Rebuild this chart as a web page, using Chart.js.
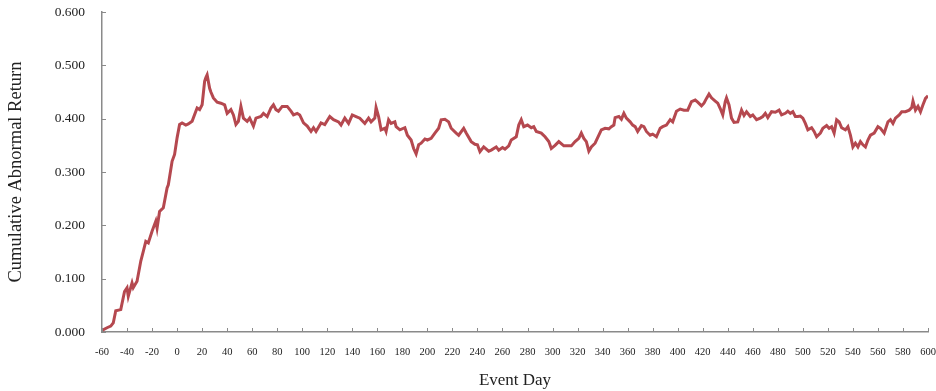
<!DOCTYPE html>
<html>
<head>
<meta charset="utf-8">
<script src="https://cdn.jsdelivr.net/npm/chart.js@4.4.1/dist/chart.umd.min.js"></script>
<style>
  html, body { margin: 0; padding: 0; background: #ffffff; }
  #wrap { width: 936px; height: 391px; position: relative; }
</style>
</head>
<body>
<div id="wrap"><canvas id="car" width="936" height="391"></canvas></div>
<script>
// Event window (days relative to the event) and cumulative abnormal return
const eventDays = [
  -60, -56, -53, -51, -49, -45, -42, -40, -39, -36, -35, -32, -29, -27, -25, -23,
  -20, -17, -16, -14, -11, -8, -7, -4, -2, 0, 2, 4, 7, 9, 12, 15, 16, 18, 20,
  22, 23, 24, 26, 27, 29, 32, 35, 38, 40, 43, 45, 47, 49, 51, 53, 56, 58, 61, 63,
  67, 69, 72, 75, 77, 79, 81, 84, 88, 91, 93, 96, 98, 101, 104, 107, 109, 111,
  115, 118, 122, 125, 129, 131, 134, 137, 140, 143, 146, 150, 153, 155, 158, 159,
  161, 163, 166, 167, 169, 171, 174, 175, 178, 182, 184, 187, 189, 191, 193, 195,
  198, 200, 203, 206, 209, 211, 214, 217, 219, 223, 225, 229, 231, 235, 238, 240,
  242, 245, 249, 251, 255, 257, 260, 262, 265, 267, 271, 273, 275, 277, 280, 283,
  285, 287, 291, 294, 297, 299, 302, 305, 309, 312, 315, 318, 321, 323, 325, 327,
  329, 331, 334, 337, 339, 342, 345, 347, 349, 350, 353, 355, 357, 359, 362, 364,
  366, 368, 371, 373, 375, 378, 380, 383, 386, 388, 391, 394, 396, 399, 402, 405,
  408, 411, 414, 416, 419, 421, 423, 425, 427, 430, 432, 434, 436, 438, 439, 441,
  443, 445, 448, 451, 453, 455, 458, 460, 463, 466, 468, 470, 472, 475, 478, 481,
  483, 486, 488, 490, 492, 494, 496, 498, 500, 502, 504, 507, 509, 511, 514, 516,
  519, 521, 523, 525, 527, 529, 531, 534, 536, 538, 540, 542, 544, 546, 548, 550,
  552, 554, 557, 560, 562, 565, 568, 570, 572, 574, 577, 579, 582, 585, 587, 588,
  590, 592, 594, 596, 598, 600
];

const carValues = [
  0.003, 0.008, 0.011, 0.017, 0.040, 0.042, 0.076, 0.083, 0.067, 0.092, 0.083, 0.095, 0.133, 0.151, 0.170, 0.167,
  0.189, 0.208, 0.195, 0.226, 0.233, 0.270, 0.276, 0.320, 0.333, 0.364, 0.389, 0.392, 0.388, 0.390, 0.395, 0.414, 0.420, 0.417, 0.426,
  0.470, 0.477, 0.482, 0.457, 0.450, 0.439, 0.431, 0.429, 0.426, 0.410, 0.417, 0.407, 0.389, 0.395, 0.423, 0.401, 0.395, 0.401, 0.386, 0.401,
  0.404, 0.410, 0.404, 0.420, 0.426, 0.417, 0.414, 0.423, 0.423, 0.414, 0.407, 0.410, 0.407, 0.392, 0.386, 0.376, 0.383, 0.376,
  0.392, 0.389, 0.404, 0.398, 0.394, 0.388, 0.401, 0.391, 0.407, 0.404, 0.401, 0.391, 0.401, 0.394, 0.401, 0.421,
  0.404, 0.379, 0.382, 0.376, 0.398, 0.391, 0.394, 0.385, 0.379, 0.383, 0.369, 0.360, 0.344, 0.334, 0.351, 0.354,
  0.362, 0.360, 0.363, 0.373, 0.382, 0.398, 0.399, 0.394, 0.382, 0.373, 0.369, 0.382, 0.373, 0.357, 0.352, 0.351,
  0.338, 0.347, 0.339, 0.341, 0.347, 0.341, 0.346, 0.343, 0.349, 0.360, 0.366, 0.388, 0.398, 0.385, 0.388, 0.383,
  0.385, 0.376, 0.373, 0.366, 0.357, 0.344, 0.350, 0.357, 0.349, 0.349, 0.349, 0.357, 0.363, 0.373, 0.363, 0.357,
  0.339, 0.347, 0.354, 0.369, 0.379, 0.382, 0.381, 0.385, 0.388, 0.402, 0.404, 0.399, 0.410, 0.401, 0.394, 0.388,
  0.385, 0.376, 0.387, 0.385, 0.376, 0.369, 0.371, 0.366, 0.382, 0.385, 0.388, 0.398, 0.394, 0.414, 0.418, 0.416,
  0.416, 0.432, 0.435, 0.431, 0.424, 0.429, 0.438, 0.446, 0.439, 0.433, 0.429, 0.419, 0.407, 0.432, 0.439, 0.426,
  0.401, 0.393, 0.394, 0.416, 0.406, 0.413, 0.404, 0.407, 0.398, 0.401, 0.404, 0.410, 0.402, 0.413, 0.412, 0.416,
  0.407, 0.410, 0.414, 0.410, 0.413, 0.404, 0.404, 0.405, 0.401, 0.391, 0.379, 0.383, 0.376, 0.366, 0.373, 0.382,
  0.387, 0.382, 0.385, 0.373, 0.398, 0.394, 0.383, 0.379, 0.385, 0.369, 0.347, 0.354, 0.347, 0.357, 0.351, 0.347,
  0.360, 0.369, 0.373, 0.385, 0.382, 0.373, 0.394, 0.398, 0.391, 0.401, 0.407, 0.413, 0.413, 0.416, 0.421, 0.433,
  0.416, 0.423, 0.413, 0.426, 0.438, 0.443
];

const xMin = -60, xMax = 600, xStep = 20;
const yMin = 0, yMax = 0.6, yStep = 0.1;

const AXIS_COLOR = '#8a8a8a';
const TEXT_COLOR = '#222222';
const SERIF = '"Liberation Serif", "Times New Roman", Times, serif';

const points = eventDays.map((d, i) => ({ x: d, y: carValues[i] }));

// Short tick marks pointing into the plot area
const inwardTicks = {
  id: 'inwardTicks',
  afterDatasetsDraw(chart) {
    const { ctx, chartArea, scales } = chart;
    const len = 4;
    ctx.save();
    ctx.strokeStyle = AXIS_COLOR;
    ctx.lineWidth = 1;
    scales.x.ticks.forEach(t => {
      const px = Math.round(scales.x.getPixelForValue(t.value)) + 0.5;
      ctx.beginPath();
      ctx.moveTo(px, chartArea.bottom);
      ctx.lineTo(px, chartArea.bottom - len);
      ctx.stroke();
    });
    scales.y.ticks.forEach(t => {
      const py = Math.round(scales.y.getPixelForValue(t.value)) + 0.5;
      ctx.beginPath();
      ctx.moveTo(chartArea.left, py);
      ctx.lineTo(chartArea.left + len, py);
      ctx.stroke();
    });
    ctx.restore();
  }
};

new Chart(document.getElementById('car'), {
  type: 'line',
  data: {
    datasets: [{
      data: points,
      borderColor: '#b5484f',
      borderWidth: 3,
      pointRadius: 0,
      tension: 0,
      fill: false
    }]
  },
  options: {
    responsive: false,
    animation: false,
    layout: { padding: { left: 0, right: 8, top: 12, bottom: 0 } },
    plugins: { legend: { display: false }, tooltip: { enabled: false } },
    scales: {
      x: {
        type: 'linear',
        min: xMin, max: xMax,
        afterFit(scale) {
          scale.height = 59;
          scale.paddingLeft = 0;
          scale.paddingRight = 0;
        },
        ticks: {
          stepSize: xStep,
          color: TEXT_COLOR,
          padding: 14,
          maxRotation: 0,
          autoSkip: false,
          font: { family: SERIF, size: 10.5 }
        },
        grid: { display: false, drawTicks: false },
        border: { display: true, color: AXIS_COLOR, width: 1.5 },
        title: {
          display: true,
          text: 'Event Day',
          color: TEXT_COLOR,
          font: { family: SERIF, size: 17 },
          padding: { top: 0, bottom: 0 }
        }
      },
      y: {
        type: 'linear',
        min: yMin, max: yMax,
        afterFit(scale) {
          scale.width = 102;
          scale.paddingTop = 0;
          scale.paddingBottom = 0;
        },
        ticks: {
          stepSize: yStep,
          color: TEXT_COLOR,
          padding: 17,
          font: { family: SERIF, size: 13.5 },
          callback: v => Number(v).toFixed(3)
        },
        grid: { display: false, drawTicks: false },
        border: { display: true, color: AXIS_COLOR, width: 1.5 },
        title: {
          display: true,
          text: 'Cumulative Abnormal Return',
          color: TEXT_COLOR,
          font: { family: SERIF, size: 18.5 },
          padding: { top: 5, bottom: 0 }
        }
      }
    }
  },
  plugins: [inwardTicks]
});
</script>
</body>
</html>
